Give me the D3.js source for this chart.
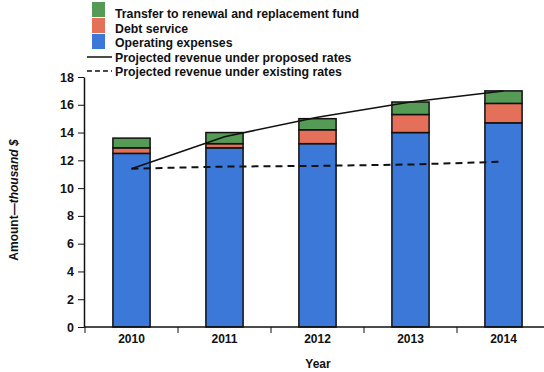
<!DOCTYPE html>
<html>
<head>
<meta charset="utf-8">
<script src="https://cdn.jsdelivr.net/npm/d3@7"></script>
<style>
  body { margin: 0; background: #fff; }
  svg { display: block; font-family: "Liberation Sans", Arial, sans-serif; }
</style>
</head>
<body>
<div id="chart"></div>
<script>
// chart data
const years = ["2010", "2011", "2012", "2013", "2014"];
const operating = [12.5, 12.9, 13.2, 14.0, 14.7];
const debt = [0.4, 0.3, 1.0, 1.3, 1.4];
const transfer = [0.7, 0.8, 0.8, 0.9, 0.9];
const proposedRevenue = [11.4, 13.7, 15.1, 16.2, 17.0];
const existingRevenue = [11.4, 11.55, 11.6, 11.7, 11.9];
const yTicks = [0, 2, 4, 6, 8, 10, 12, 14, 16, 18];

const width = 544, height = 372;
const marginTop = 77, marginRight = -6, marginBottom = 45, marginLeft = 84;

const keys = ["operating", "debt", "transfer"];
const colors = { operating: "#3b78d8", debt: "#e5705a", transfer: "#559a55" };
const labels = {
  transfer: "Transfer to renewal and replacement fund",
  debt: "Debt service",
  operating: "Operating expenses"
};

const table = years.map((y, i) => ({
  year: y, operating: operating[i], debt: debt[i], transfer: transfer[i]
}));

const x = d3.scaleBand()
  .domain(years)
  .range([marginLeft + 1, width - marginRight])
  .paddingInner(0.6)
  .paddingOuter(0.3);

// band step for ticks between bars
const step = x.step();

const y = d3.scaleLinear()
  .domain([0, 18])
  .range([height - marginBottom, marginTop]);

const svg = d3.select("#chart")
  .append("svg")
  .attr("width", width)
  .attr("height", height);

const series = d3.stack().keys(keys)(table);

// stacked bars
svg.append("g")
  .selectAll("g")
  .data(series)
  .join("g")
  .attr("fill", d => colors[d.key])
  .selectAll("rect")
  .data(d => d)
  .join("rect")
  .attr("x", d => x(d.data.year))
  .attr("y", d => y(d[1]))
  .attr("height", d => y(d[0]) - y(d[1]))
  .attr("width", x.bandwidth())
  .attr("stroke", "#111")
  .attr("stroke-width", 1.5);

// revenue lines
const line = d3.line()
  .x((d, i) => x(years[i]) + x.bandwidth() / 2)
  .y(d => y(d));

svg.append("path")
  .attr("d", line(proposedRevenue))
  .attr("fill", "none")
  .attr("stroke", "#111")
  .attr("stroke-width", 1.5);

svg.append("path")
  .attr("d", line(existingRevenue))
  .attr("fill", "none")
  .attr("stroke", "#111")
  .attr("stroke-width", 2)
  .attr("stroke-dasharray", "7,5");

// y axis
svg.append("g")
  .attr("transform", `translate(${marginLeft}, 0)`)
  .call(d3.axisLeft(y).tickValues(yTicks).tickSize(6).tickPadding(4).tickSizeOuter(0))
  .call(g => g.select(".domain").attr("stroke", "#111").attr("stroke-width", 1.5))
  .call(g => g.selectAll(".tick line").attr("stroke", "#111"))
  .call(g => g.selectAll(".tick text")
    .attr("fill", "#111")
    .attr("font-size", 12.5)
    .attr("font-weight", "bold"));

// x axis (ticks sit between the bars)
const xTickPos = d3.range(years.length).map(i => x.range()[0] + i * step);
const xAxis = svg.append("g")
  .attr("transform", `translate(0, ${y(0)})`);
xAxis.append("line")
  .attr("x1", marginLeft).attr("x2", width)
  .attr("stroke", "#111").attr("stroke-width", 1.5);
xAxis.selectAll("line.tick")
  .data(xTickPos)
  .join("line")
  .attr("class", "tick")
  .attr("x1", d => d).attr("x2", d => d)
  .attr("y1", 0).attr("y2", 6)
  .attr("stroke", "#111");
xAxis.selectAll("text")
  .data(years)
  .join("text")
  .attr("x", d => x(d) + x.bandwidth() / 2)
  .attr("y", 16)
  .attr("text-anchor", "middle")
  .attr("font-size", 12)
  .attr("font-weight", "bold")
  .attr("fill", "#111")
  .text(d => d);

// axis titles
svg.append("text")
  .attr("x", 318)
  .attr("y", 368)
  .attr("text-anchor", "middle")
  .attr("font-size", 12)
  .attr("font-weight", "bold")
  .attr("fill", "#111")
  .text("Year");

const yTitle = svg.append("text")
  .attr("transform", `translate(18, 200) rotate(-90)`)
  .attr("text-anchor", "middle")
  .attr("font-size", 12)
  .attr("font-weight", "bold")
  .attr("fill", "#111");
yTitle.append("tspan").text("Amount\u2014");
yTitle.append("tspan").attr("font-style", "italic").text("thousand $");

// legend
const legend = svg.append("g");
const legendKeys = ["transfer", "debt", "operating"];
legendKeys.forEach((k, i) => {
  legend.append("rect")
    .attr("x", 92).attr("y", 2 + i * 16)
    .attr("width", 13).attr("height", 15)
    .attr("fill", colors[k]);
  legend.append("text")
    .attr("x", 115).attr("y", 18 + i * 14.7)
    .attr("font-size", 12.3)
    .attr("font-weight", "bold")
    .attr("fill", "#111")
    .text(labels[k]);
});
legend.append("line")
  .attr("x1", 87).attr("x2", 112).attr("y1", 57).attr("y2", 57)
  .attr("stroke", "#111").attr("stroke-width", 1.5);
legend.append("text")
  .attr("x", 115).attr("y", 61.5)
  .attr("font-size", 12.3).attr("font-weight", "bold").attr("fill", "#111")
  .text("Projected revenue under proposed rates");
legend.append("line")
  .attr("x1", 87).attr("x2", 112).attr("y1", 71).attr("y2", 71)
  .attr("stroke", "#111").attr("stroke-width", 1.5)
  .attr("stroke-dasharray", "5,3");
legend.append("text")
  .attr("x", 115).attr("y", 75.5)
  .attr("font-size", 12.3).attr("font-weight", "bold").attr("fill", "#111")
  .text("Projected revenue under existing rates");
</script>
</body>
</html>
